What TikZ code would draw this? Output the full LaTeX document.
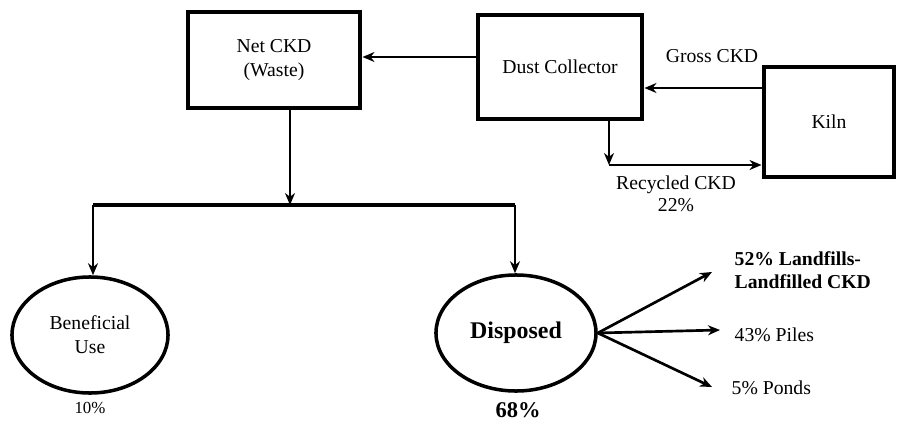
\documentclass[tikz,border=0pt]{standalone}
\usepackage{fontspec}
\setmainfont{Liberation Serif}
\usepackage{tikz}
\usetikzlibrary{arrows.meta,positioning,shapes.geometric,calc}
\tikzset{
  unit/.style   ={rectangle, draw=black, line width=3.5pt, fill=white,
                  align=center, font=\fontsize{14}{17}\selectfont, inner sep=2pt},
  stream/.style ={ellipse, draw=black, line width=2.5pt, fill=white,
                  align=center, font=\fontsize{14}{17}\selectfont, inner sep=1pt,
                  minimum width=4cm, minimum height=2.9cm},
  lbl/.style    ={align=center, font=\fontsize{14}{16}\selectfont, inner sep=1pt},
  flow/.style   ={-{Stealth[length=3mm, width=2.5mm]}, line width=1.9pt},
  bar/.style    ={line width=3.2pt},
}

\begin{document}
\begin{tikzpicture}[x=0.025cm, y=-0.025cm]
  \useasboundingbox (0,0) rectangle (897,421);
  % units
  \node[unit, minimum width=4.3cm,  minimum height=2.4cm]  (net)  at (274,60)  {Net CKD\\(Waste)};
  \node[unit, minimum width=4.1cm,  minimum height=2.6cm]  (dust) at (560,67)  {Dust Collector};
  \node[unit, minimum width=3.25cm, minimum height=2.75cm] (kiln) at (829,122) {Kiln};
  \node[lbl] (gross) at (712,56)  {Gross CKD};
  \node[lbl] (recy)  at (676,194) {Recycled CKD\\22\%};
  % streams
  \node[stream, minimum width=3.9cm] (ben) at (90,335)  {Beneficial\\Use};
  \node[stream] (dis) at (516,333) {\fontsize{17}{19}\selectfont\bfseries Disposed};
  \node[lbl, font=\fontsize{12}{14}\selectfont] (benp) at (90,408)  {10\%};
  \node[lbl, font=\fontsize{16}{18}\selectfont\bfseries] (disp) at (518,410) {68\%};
  % disposal routes
  \node[lbl, anchor=west, align=left, font=\fontsize{14}{16}\selectfont\bfseries] (land) at (733,270) {52\% Landfills-\\Landfilled CKD};
  \node[lbl, anchor=west] (pile) at (733,335) {43\% Piles};
  \node[lbl, anchor=west] (pond) at (730,388) {5\% Ponds};
  \coordinate (rc)    at (609,165);
  \coordinate (split) at (290,205);
  \coordinate (bl)    at (93,205);
  \coordinate (br)    at (515,205);
  \coordinate (tland) at (712,272);
  \coordinate (tpile) at (720,330);
  \coordinate (tpond) at (712,387);
  % connectors
  \draw[flow] (dust.west |- 0,57) -- (net.east |- 0,57);
  \draw[flow] (kiln.west |- 0,88) -- (dust.east |- 0,88);
  \draw[flow] (dust.south -| rc) -- (rc);
  \draw[flow] (rc) -- (kiln.west |- rc);
  \draw[flow] (net.south -| split) -- (split);
  \draw[bar]  (bl) -- (br);
  \draw[flow] (bl) -- (ben.north -| bl);
  \draw[flow] (br) -- (dis.north -| br);
  \draw[flow] (dis.east) -- (tland);
  \draw[flow] (dis.east) -- (tpile);
  \draw[flow] (dis.east) -- (tpond);
\end{tikzpicture}
\end{document}
